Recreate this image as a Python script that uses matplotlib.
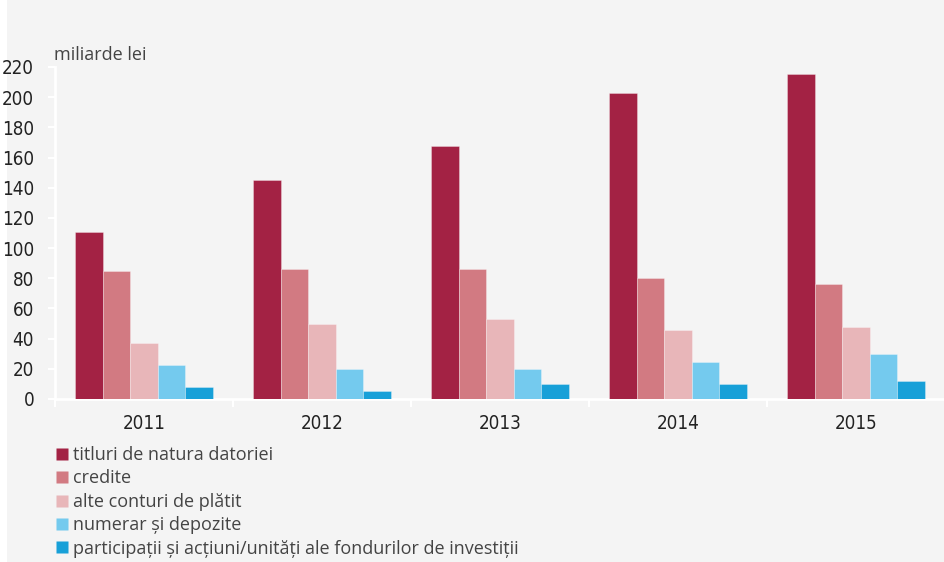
import matplotlib.pyplot as plt
import numpy as np
from matplotlib.patches import Rectangle
from matplotlib.lines import Line2D

years = ['2011', '2012', '2013', '2014', '2015']
serii = ['titluri de natura datoriei',
         'credite',
         'alte conturi de plătit',
         'numerar și depozite',
         'participații și acțiuni/unități ale fondurilor de investiții']
titluri = [110.5, 145.0, 167.5, 202.8, 215.2]
credite = [84.8, 86.0, 86.0, 80.0, 76.0]
alte_conturi = [36.9, 49.7, 52.7, 46.0, 47.5]
numerar = [22.3, 20.0, 20.0, 24.5, 29.6]
participatii = [8.0, 5.3, 10.0, 10.2, 11.7]
culori = ['#A32244', '#D27A82', '#E8B6B9', '#74CAEE', '#17A0D8']

valori = [titluri, credite, alte_conturi, numerar, participatii]

fundal = '#F4F4F4'
font_text = ['Open Sans', 'DejaVu Sans']

fig = plt.figure(figsize=(9.45, 5.62), dpi=100, facecolor='white')
fig.patches.append(Rectangle((7 / 945, 0), 1, 1, transform=fig.transFigure,
                             facecolor=fundal, edgecolor='none', zorder=-10))

ax = fig.add_axes([55 / 945, (562 - 399) / 562, 890 / 945, 332 / 562])
ax.set_facecolor(fundal)

x = np.arange(len(years))
latime = 0.154
for i, (v, c) in enumerate(zip(valori, culori)):
    ax.bar(x + (i - 2) * latime, v, width=latime, color=c,
           edgecolor=(1, 1, 1, 0.35), linewidth=0.6, label=serii[i], zorder=3)

# cifrele axelor intr-un font ingust
cond = dict(family='DejaVu Sans', stretch='condensed', fontsize=13.5, color='#222222')

ax.set_xlim(-0.5, 4.5)
ax.set_ylim(0, 220)
ax.set_yticks(range(0, 221, 20))
ax.set_yticklabels([str(t) for t in range(0, 221, 20)], **cond)
ax.set_xticks(x)
ax.set_xticklabels(years, **cond)
ax.set_xticks(np.arange(-0.5, 4.6, 1), minor=True)
ax.tick_params(axis='x', which='major', length=0, pad=11)
ax.tick_params(axis='x', which='minor', length=6, color='white', width=1.5)
ax.tick_params(axis='y', length=5, color='white', width=1.5, pad=10)

for s in ['top', 'right']:
    ax.spines[s].set_visible(False)
for s in ['left', 'bottom']:
    ax.spines[s].set_color('white')
    ax.spines[s].set_linewidth(2)

fig.text(54 / 945, 1 - 55 / 562, 'miliarde lei', family=font_text,
         fontsize=13, color='#444444', va='center', ha='left')

handles = [Line2D([], [], marker='s', linestyle='none', markersize=8.5,
                  markerfacecolor=c, markeredgecolor='none') for c in culori]
leg = fig.legend(handles, serii, loc='upper left',
                 bbox_to_anchor=(57 / 945, 1 - 446 / 562),
                 frameon=False, handlelength=0.6, handletextpad=0.3,
                 labelspacing=0.3, borderpad=0, borderaxespad=0,
                 prop={'family': font_text, 'size': 13})
for t in leg.get_texts():
    t.set_color('#444444')

fig.savefig('out.png', dpi=100, facecolor=fig.get_facecolor())
